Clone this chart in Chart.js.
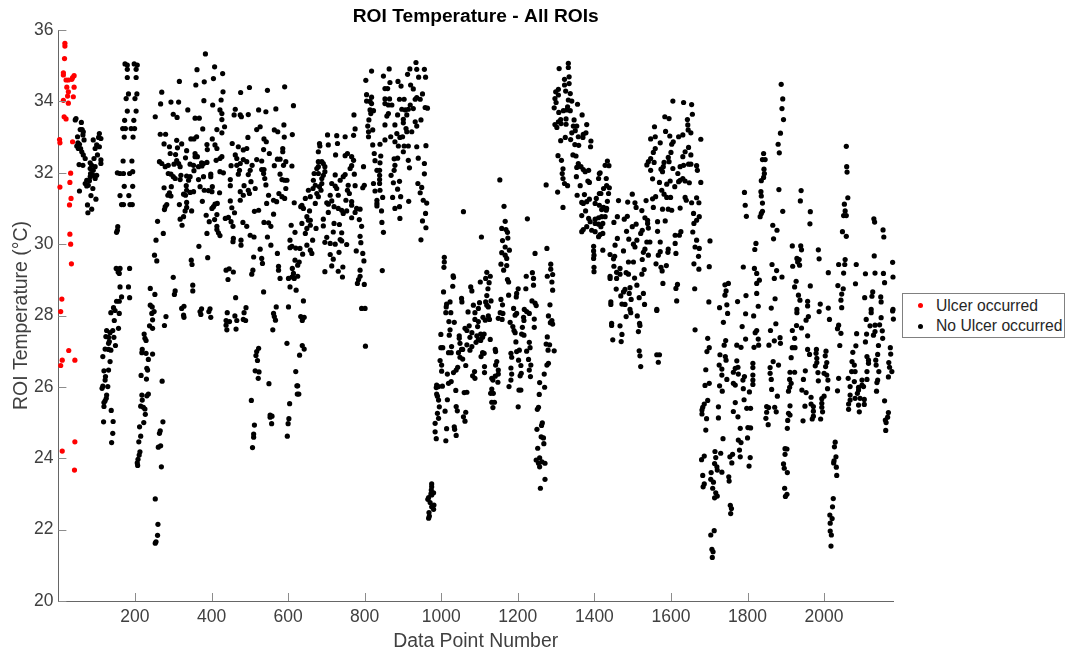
<!DOCTYPE html>
<html>
<head>
<meta charset="utf-8">
<title>ROI Temperature</title>
<script src="https://cdn.jsdelivr.net/npm/chart.js@4/dist/chart.umd.min.js"></script>
<style>
  html, body { margin: 0; padding: 0; background: #fff; }
  #wrap { position: relative; width: 1077px; height: 657px; }
  #legend { position: absolute; left: 902px; top: 293px; width: 161px; height: 43px; border: 1px solid #808080; background: #fff;
    font: 15.7px "Liberation Sans", Arial, sans-serif; color: #262626; }
  #legend div { position: absolute; left: 33px; white-space: nowrap; line-height: 20px; }
  #legend i { position: absolute; left: 15px; width: 5px; height: 5px; border-radius: 50%; }
</style>
</head>
<body>
<div id="wrap">
  <canvas id="c" width="1077" height="657"></canvas>
  <div id="legend">
    <i style="top:9px;background:#ff0000"></i><div style="top:2px">Ulcer occurred</div>
    <i style="top:30px;background:#000"></i><div style="top:22px">No Ulcer occurred</div>
  </div>
</div>
<script>
const xTicks = [200, 400, 600, 800, 1000, 1200, 1400, 1600, 1800, 2000];
const yTicks = [20, 22, 24, 26, 28, 30, 32, 34, 36];

const ulcer = [[17,35.63],[17,35.55],[16,35.2],[13,34.8],[13,34.74],[20,34.6],[26,34.6],[35,34.62],[41,34.72],[37,34.67],[22,34.4],[41,34.4],[26,34.27],[24,34.15],[39,34.13],[13,34.03],[26,33.95],[15,33.57],[20,33.51],[3,32.93],[4,32.84],[37,32.87],[32,31.99],[30,31.73],[4,31.6],[33,31.28],[29,31.1],[30,30.28],[32,30],[34,29.45],[9,28.46],[6,28.11],[27,27.02],[10,26.75],[43,26.75],[6,26.6],[43,24.46],[10,24.2],[42,23.67]];

const block0to120 = [[46,33.52],[44,33.48],[60,33.41],[62,33.21],[57,33.21],[65,33.15],[50,33.01],[67,32.92],[64,33.06],[51,32.84],[55,32.8],[48,32.75],[58,32.68],[52,32.68],[61,32.59],[65,32.5],[70,32.4],[54,32.23],[64,32.21],[91,32.92],[107,33.1],[105,32.99],[111,32.96],[100,32.78],[107,32.73],[96,32.68],[102,32.5],[93,32.4],[111,32.36],[111,32.26],[83,32.28],[87,32.21],[96,32.17],[83,32.12],[91,32.07],[84,31.98],[91,31.93],[100,31.93],[83,31.89],[96,31.84],[74,31.79],[81,31.78],[70,31.7],[78,31.65],[74,31.63],[90,31.56],[55,31.49],[85,31.36],[98,31.26],[76,31.1],[87,30.98],[77,30.88]];

const block120to210 = [[174,35.05],[180,35.02],[198,35.05],[206,35.02],[180,34.9],[203,34.9],[180,34.67],[203,34.67],[183,34.21],[205,34.21],[177,34.08],[200,34.08],[180,33.73],[203,33.73],[173,33.47],[197,33.47],[168,33.24],[175,33.24],[190,33.24],[199,33.24],[172,33],[195,33],[169,32.33],[192,32.33],[154,32],[161,31.98],[170,31.98],[186,31.98],[194,32.03],[172,31.62],[194,31.62],[161,31.36],[184,31.36],[165,31.11],[170,31.11],[187,31.11],[193,31.11],[155,30.49],[154,30.39],[152,30.33],[151,29.32],[161,29.32],[186,29.32],[156,29.22],[159,29.18],[161,28.8],[183,28.8],[165,28.52],[186,28.5],[152,28.4],[159,28.4],[144,28.22],
[137,28.08],[148,28.14],[159,28.06],[146,27.86],[126,27.58],[135,27.52],[142,27.58],[157,27.64],[124,27.41],[131,27.39],[145,27.39],[133,27.27],[131,27.22],[149,27.16],[122,27.06],[131,27.05],[137,27.03],[116,26.85],[135,26.71],[119,26.45],[131,26.47],[123,26.29],[122,26.19],[116,26.02],[114,25.96],[129,26.01],[126,25.77],[125,25.68],[122,25.61],[119,25.56],[119,25.45],[138,25.34],[118,25.02],[143,25.03],[142,24.7],[139,24.44]];

const block205to285 = [[244,28.06],[250,28.11],[246,27.88],[238,27.71],[246,27.64],[281,27.97],[277,27.72],[224,27.48],[226,27.36],[229,27.3],[219,27.05],[218,26.96],[229,26.94],[246,26.92],[235,26.77],[231,26.52],[233,26.47],[216,26.32],[230,26.22],[271,26.16],[218,25.77],[219,25.63],[235,25.8],[231,25.75],[215,25.46],[222,25.43],[226,25.38],[227,25.23],[223,25],[273,25.02],[212,24.88],[215,24.62],[210,24.46],[266,24.77],[264,24.7],[213,24.18],[211,24.09],[208,23.97],[206,23.87],[207,23.8],[267,24.35],[261,24.31],[269,23.76],[253,22.86],[260,22.15],[259,21.84],[255,21.66],[253,21.62]];

const block240to620 = [[384,35.33],[408,34.97],[362,34.89],[429,34.78],[405,34.64],[316,34.56],[381,34.55],[359,34.46],[591,34.41],[499,34.39],[546,34.31],[476,34.25],[430,34.27],[270,34.26],[425,34.04],[380,34.02],[294,33.98],[314,33.98],[267,33.93],[403,33.9],[614,33.88],[568,33.79],[523,33.76],[462,33.78],[542,33.71],[422,33.76],[338,33.76],[427,33.66],[459,33.62],[475,33.62],[496,33.63],[478,33.57],[300,33.64],[310,33.55],[253,33.57],[357,33.53],[368,33.53],[427,33.49],[434,33.29],[377,33.23],[414,33.21],[527,33.29],[518,33.21],[589,33.34],[564,33.2],[573,33.15],[427,33.12],[266,33.08],[280,33.08],[590,33],[611,33.07],[495,32.99],[361,33.01],[346,32.95],[354,32.95],[402,32.95],[309,32.91],[537,32.95],[543,32.87],[454,32.82],[276,32.81],[322,32.81],[388,32.79],[409,32.78],[290,32.73],[311,32.7],[470,32.73],[414,32.68],[536,32.65],[389,32.65],[492,32.68],[483,32.64],[586,32.68],[586,32.59],[551,32.54],[292,32.54],[306,32.51],[357,32.54],[462,32.5],[335,32.62],[332,32.42],[357,32.45],[363,32.45],[466,32.4],[427,32.45],[422,32.4],[518,32.37],[412,32.35],[531,32.33],[483,32.37],[572,32.38],[579,32.38],[264,32.31],[270,32.26],[309,32.34],[314,32.26],[344,32.24],[388,32.29],[379,32.26],[374,32.28],[366,32.17],[594,32.31],[588,32.21],[492,32.31],[475,32.26],[466,32.21],[506,32.21],[451,32.2],[279,32.17],[287,32.21],[302,32.24],[318,32.17],[353,32.21],[375,32.19],[610,32.19],[564,32.2],[501,32.07],[531,32.09],[537,32.09],[473,32.07],[422,32.03],[431,32],[287,31.98],[294,31.96],[354,32.06],[398,31.96],[300,31.89],[305,31.84],[320,31.93],[335,31.91],[344,31.89],[379,31.89],[398,31.89],[579,31.96],[536,31.98],[496,31.95],[470,31.96],[366,31.81],[340,31.79],[449,31.81],[591,31.79],[539,31.84],[584,31.81],[503,31.75],[597,31.79],[318,31.81],[334,31.64],[370,31.61],[402,31.61],[449,31.64],[485,31.64],[542,31.66],[276,31.58],[295,31.61],[335,31.51],[381,31.51],[392,31.5],[401,31.47],[421,31.44],[514,31.56],[594,31.56],[496,31.51],[475,31.47],[499,31.42],[353,31.47],[344,31.45],[332,31.37],[327,31.4],[290,31.44],[286,31.37],[294,31.35],[483,31.37],[576,31.42],[549,31.37],[584,31.33],[591,31.28],[562,31.23],[570,31.19],[475,31.23],[449,31.21],[376,31.2],[415,31.14],[409,31.12],[401,31],[405,31.05],[544,31.14],[616,31.16],[316,31.11],[283,31.11],[279,31.05],[277,30.97],[335,31.17],[335,31.03],[348,30.93],[331,30.93],[453,31.02],[460,30.88],[512,30.92],[523,30.95],[386,30.81],[414,30.83],[562,30.84],[327,30.77],[318,30.7],[436,30.72],[444,30.75],[451,30.63],[408,30.69],[394,30.63],[259,30.64],[482,30.61],[492,30.5],[537,30.61],[549,30.6],[555,30.5],[456,30.5],[323,30.53],[414,30.5],[414,30.41],[418,30.32],[274,30.3],[388,30.3],[422,30.24],[501,30.25],[511,30.2],[546,30.2],[457,30.16],[477,30.11],[255,30.11],[456,30.07],[477,29.97],[555,29.97],[367,29.94],[527,29.86],[251,29.69],[572,29.74],[510,29.64],[390,29.62],[531,29.6],[533,29.46],[257,29.53],[347,29.55],[349,29.43],[575,29.38],[575,29.27],[438,29.27],[446,29.31],[457,29.22],[508,29.27],[505,29.16],[300,29.07],[443,29.01],[579,29.04],[351,28.85],[351,28.69],[240,28.76],[252,28.59],[305,28.69],[303,28.59],[536,28.66],[463,28.5],[328,28.26],[322,28.2],[240,28.29],[245,28.24],[374,28.19],[396,28.19],[490,28.22],[569,28.24],[601,28.24]];

const block600to690 = [[605,30.11],[605,29.9],[610,29.94],[620,29.89],[631,29.88],[649,29.97],[664,30.11],[658,29.83],[662,29.74],[618,30.33],[608,30.53],[636,30.58],[653,30.67],[649,30.77],[658,30.67],[645,30.3],[649,30.44],[658,30.53],[673,30.44],[638,29.72],[618,29.55],[629,29.5],[625,29.41],[611,29.32],[614,29.18],[601,29.04],[610,29.08],[616,29.04],[625,29.1],[605,28.8],[621,28.71],[640,28.41],[636,31.09],[645,31.28],[658,31.33],[653,31.51],[665,31.56],[671,31.65],[666,31.79],[668,31.98],[675,32.12],[679,32.31],[679,32.59],[682,32.82],[671,31.14],[679,31.33],[675,31.42],[679,32.17],[656,30.93],[679,31.98],[682,31.61],[633,31.05],[640,31]];

const block320to640low = [[327,28.01],[328,27.95],[370,28.11],[372,28.03],[393,28.11],[398,27.95],[441,28.08],[438,27.86],[447,27.83],[438,27.73],[440,27.6],[461,27.99],[466,27.86],[464,27.62],[485,28.08],[483,27.89],[489,27.86],[562,28.06],[564,27.97],[567,27.87],[560,27.6],[633,27.97],[638,27.92],[642,27.95],[637,27.86],[597,27.22],[637,27.16],[642,27.06],[630,26.89],[523,27.08],[518,26.99],[516,26.88],[520,26.74],[514,26.45],[524,26.42],[522,26.24],[550,26.09],[504,25.62],[512,24.93],[510,24.68],[510,24.59],[507,24.3],[553,25.21],[558,25.18],[557,24.97],[553,25.15],[620,26.43],[623,26.03],[625,26.03],[624,25.8],[628,25.8],[604,25.53],[602,25.11],[600,24.97],[598,24.62]];

const block683to965 = [[934,35.09],[864,34.91],[818,34.85],[918,34.91],[936,34.9],[956,34.9],[912,34.76],[849,34.71],[941,34.68],[959,34.68],[803,34.59],[866,34.53],[887,34.56],[895,34.43],[920,34.46],[927,34.35],[853,34.36],[860,34.36],[805,34.19],[951,34.21],[818,34.12],[936,34.11],[805,34.01],[814,34],[818,33.94],[853,34.07],[865,34.07],[891,34.06],[903,34.06],[932,34.06],[945,34.06],[853,33.94],[862,33.9],[871,33.9],[919,33.9],[897,33.78],[906,33.76],[914,33.78],[927,33.8],[958,33.83],[964,33.81],[814,33.76],[823,33.74],[816,33.66],[862,33.66],[858,33.59],[886,33.62],[910,33.62],[772,33.62],[901,33.5],[932,33.43],[947,33.48],[811,33.48],[901,33.4],[936,33.31],[808,33.31],[853,33.34],[879,33.34],[908,33.24],[775,33.23],[821,33.2],[810,33.15],[923,33.15],[884,33.1],[910,33.15],[899,33.01],[892,32.99],[771,33.05],[749,33.01],[868,33.01],[853,32.92],[840,32.8],[821,32.78],[703,33.06],[727,33.04],[888,32.75],[903,32.75],[914,32.75],[936,32.73],[960,32.76],[879,32.87],[729,32.82],[705,32.78],[683,32.75],[810,33.01],[901,32.59],[825,32.54],[724,32.5],[755,32.54],[749,32.48],[766,32.45],[771,32.35],[842,32.47],[940,32.41],[877,32.39],[886,32.41],[914,32.35],[827,32.34],[840,32.28],[956,32.26],[879,32.21],[797,32.17],[917,32.14],[766,32.2],[762,32.12],[832,32.07],[839,32.07],[692,32.26],[696,32.17],[688,32.31],[696,32.03],[877,32.07],[773,31.96],[749,31.95],[723,31.94],[839,31.93],[956,31.97],[692,31.93],[869,31.93],[736,31.79],[744,31.89],[839,31.81],[714,31.7],[723,31.63],[823,31.7],[839,31.7],[875,31.72],[891,31.76],[939,31.7],[949,31.59],[757,31.65],[775,31.64],[799,31.65],[795,31.58],[688,31.84],[688,31.7],[686,31.51],[727,31.56],[710,31.37],[755,31.51],[760,31.42],[731,31.37],[840,31.51],[827,31.49],[886,31.54],[945,31.44],[847,31.31],[873,31.31],[894,31.33],[953,31.23],[962,31.15],[915,31.2],[751,31.23],[714,31.21],[766,31.19],[701,31.16],[705,31.12],[766,31.09],[832,31.23],[832,31.14],[720,31.05],[731,31],[740,30.95],[753,30.93],[832,31.07],[779,31],[788,30.98],[891,31.05],[879,31],[844,30.93],[705,30.89],[744,30.86],[775,30.89],[959,30.86],[692,30.7],[766,30.74],[786,30.69],[892,30.72],[845,30.61],[951,30.65],[720,30.58],[734,30.55],[692,30.51],[792,30.5],[960,30.46],[849,30.33],[718,30.34],[740,30.32],[701,30.19],[947,30.12],[736,30.13],[788,30.22],[696,30.05],[710,30.02],[723,30],[740,30.09],[753,29.99],[790,30.04],[778,29.81],[795,29.74],[710,29.71],[733,29.77],[718,29.58],[798,29.53],[714,29.39],[743,29.36],[696,29.23],[788,29.27],[731,29.24],[846,29.26],[788,29.1],[742,29.08],[784,29.01],[781,28.9],[799,28.87],[792,28.2],[801,28.2],[802,27.14]];

const block1000to1420top = [[1308,34.92],[1332,35.07],[1332,34.95],[1334,34.69],[1322,34.62],[1334,34.5],[1322,34.46],[1306,34.34],[1299,34.27],[1325,34.29],[1337,34.22],[1306,34.18],[1297,34.08],[1332,34.04],[1341,34.01],[1300,33.97],[1356,33.92],[1295,33.82],[1330,33.85],[1328,33.76],[1319,33.74],[1307,33.69],[1337,33.74],[1368,33.62],[1312,33.49],[1326,33.51],[1347,33.48],[1306,33.43],[1297,33.35],[1313,33.38],[1326,33.36],[1380,33.35],[1345,33.31],[1354,33.31],[1302,33.27],[1350,33.18],[1341,33.12],[1378,33.12],[1371,33.08],[1358,33.01],[1370,32.99],[1324,32.99],[1312,32.9],[1338,32.93],[1391,32.89],[1349,32.79],[1359,32.77],[1390,32.73],[1305,32.48],[1344,32.5],[1352,32.47],[1314,32.35],[1318,32.11],[1358,32.26],[1365,32.17],[1354,32.15],[1371,32.09],[1385,32.07],[1376,32.03],[1316,31.98],[1413,31.98],[1318,31.84],[1353,31.89],[1411,31.84],[1322,31.7],[1383,31.77],[1387,31.73],[1363,31.64],[1330,31.64],[1274,31.66],[1153,31.8],[1304,31.46],[1355,31.37],[1374,31.39],[1413,31.42],[1387,31.26],[1405,31.28],[1367,31.17],[1371,31.14],[1380,31.19],[1402,31.14],[1413,31.09],[1318,31.03],[1164,31.06],[1377,30.93],[1058,30.91],[1367,30.8],[1385,30.72],[1402,30.7],[1411,30.74],[1225,30.71],[1167,30.64],[1389,30.63],[1402,30.58],[1411,30.56],[1380,30.49],[1371,30.41],[1367,30.35],[1393,30.39],[1402,30.35],[1411,30.21],[1158,30.44],[1169,30.41],[1173,30.33],[1105,30.2],[1174,30.17],[1160,30.1],[1167,29.92],[1398,29.94],[1276,29.88],[1178,29.83],[1158,29.76],[1167,29.69],[1245,29.74],[1398,29.81],[1399,29.69],[1008,29.63],[1008,29.5],[1007,29.35],[1286,29.44],[1171,29.6],[1156,29.44],[1171,29.4],[1398,29.6],[1286,29.3],[1399,29.35],[1399,29.23],[1119,29.21],[1163,29.27],[1238,29.2],[1291,29.15],[1031,29.11],[1032,29.07],[1128,29.1],[1116,29.04],[1222,29.1],[1241,29.04],[1277,29.1],[1173,29.01],[1102,28.94],[1125,28.92],[1176,28.94],[1289,28.94],[1241,28.85],[1030,28.82],[1077,28.8],[1122,28.75],[1221,28.75],[1201,28.75],[1080,28.69],[1006,28.66],[1291,28.71],[1176,28.57],[1197,28.62],[1196,28.52],[1053,28.48],[1119,28.56],[1054,28.38],[1130,28.41],[1023,28.38],[1156,28.45],[1237,28.41],[1245,28.35],[1014,28.32],[1013,28.24],[1100,28.36],[1116,28.38],[1119,28.29],[1084,28.29],[1160,28.3],[1284,28.3],[1248,28.28],[1189,28.2],[1217,28.17],[1123,28.24],[1097,28.2]];

const block965to1300low = [[1012,28.08],[1025,28.08],[1070,28.1],[1088,28.08],[1154,28.08],[1161,28.06],[1193,28.01],[1197,28.06],[1223,28.11],[1230,28.06],[1109,27.95],[1088,27.89],[1097,27.83],[1115,27.87],[1126,27.89],[1123,27.99],[1149,27.92],[1159,27.89],[1215,27.95],[1216,27.86],[1243,27.9],[1280,27.99],[1289,27.86],[1285,27.8],[1291,27.76],[1020,27.83],[1034,27.81],[1180,27.81],[1187,27.69],[1212,27.67],[1243,27.67],[1095,27.69],[1073,27.71],[1062,27.64],[1067,27.58],[1023,27.6],[1080,27.52],[1190,27.58],[1193,27.52],[999,27.47],[1021,27.45],[1047,27.43],[1093,27.43],[1103,27.48],[1112,27.48],[1210,27.48],[1216,27.45],[1075,27.39],[1047,27.36],[1097,27.33],[1108,27.39],[1128,27.33],[1277,27.4],[1091,27.25],[1103,27.3],[1195,27.26],[1230,27.25],[1049,27.22],[1067,27.18],[1274,27.2],[1283,27.18],[1080,27.13],[999,27.1],[1004,27.1],[1027,27.13],[1232,27.1],[1053,27.05],[1056,27.05],[1141,27.05],[1204,27.03],[1223,27],[1279,27.03],[1295,27.01],[1075,27.03],[1019,26.96],[1026,26.96],[1045,26.96],[1142,26.99],[1108,26.96],[1112,26.94],[1182,26.94],[1197,26.99],[1104,26.85],[1049,26.83],[1056,26.78],[1184,26.83],[1202,26.75],[1228,26.77],[997,26.74],[1145,26.71],[1142,26.61],[1001,26.61],[1064,26.6],[1208,26.6],[1234,26.61],[1280,26.66],[1276,26.61],[1043,26.55],[1113,26.57],[1182,26.53],[1230,26.47],[1039,26.47],[1149,26.47],[1001,26.44],[1087,26.43],[1032,26.4],[1016,26.36],[1113,26.4],[1184,26.36],[1209,26.38],[1149,26.36],[1206,26.31],[1269,26.36],[1082,26.31],[1141,26.3],[1233,26.29],[1088,26.24],[1132,26.24],[1135,26.19],[1182,26.19],[1148,26.13],[1257,26.12],[1026,26.15],[1019,26.1],[1003,26.02],[988,26.05],[987,25.98],[993,26.01],[1177,26.01],[1270,25.99],[1132,25.94],[1203,25.91],[1208,25.91],[1038,25.9],[1060,25.84],[1067,25.85],[1129,25.82],[1136,25.82],[988,25.8],[1256,25.79],[990,25.74],[993,25.63],[1016,25.64],[1132,25.57],[1139,25.57],[995,25.44],[1201,25.44],[1135,25.42],[1039,25.45],[1254,25.43],[1251,25.37],[1042,25.33],[1010,25.32],[1064,25.29],[990,25.26],[1058,25.16],[993,25.12],[1062,25.04],[984,24.98],[1264,24.99],[1262,24.92],[1034,24.88],[1014,24.83],[1035,24.81],[1250,24.81],[984,24.74],[1039,24.64],[1261,24.6],[1267,24.57],[987,24.55],[1012,24.49],[1268,24.41],[1252,24.28],[1257,24.01],[1248,23.95],[1263,23.9],[1271,23.86],[1254,23.86],[1257,23.76],[1271,23.41],[1259,23.16]];

const block965cold = [[975,23.28],[975,23.2],[974,23.11],[980,23.03],[973,23],[967,22.9],[975,22.97],[965,22.85],[971,22.76],[981,22.69],[975,22.64],[980,22.57],[968,22.48],[969,22.38],[967,22.32]];

const block1415to1700 = [[1605,34.01],[1633,33.97],[1654,33.91],[1656,33.64],[1584,33.57],[1595,33.52],[1643,33.49],[1557,33.29],[1644,33.34],[1586,33.16],[1645,33.2],[1652,33.12],[1597,33.03],[1620,33.01],[1631,33.06],[1559,33.01],[1547,32.95],[1678,32.94],[1606,32.87],[1602,32.8],[1572,32.84],[1559,32.68],[1554,32.57],[1646,32.71],[1637,32.59],[1652,32.5],[1600,32.57],[1593,32.43],[1631,32.45],[1595,32.31],[1547,32.4],[1541,32.31],[1556,32.29],[1582,32.29],[1537,32.22],[1624,32.17],[1633,32.21],[1646,32.24],[1652,32.24],[1667,32.2],[1669,32.07],[1580,32.17],[1605,32.12],[1574,32.1],[1547,32.07],[1578,32.03],[1618,31.98],[1552,31.83],[1631,31.84],[1624,31.79],[1598,31.77],[1570,31.73],[1637,31.77],[1648,31.72],[1678,31.73],[1620,31.75],[1589,31.68],[1610,31.61],[1576,31.51],[1582,31.4],[1560,31.33],[1552,31.27],[1589,31.31],[1599,31.31],[1637,31.31],[1640,31.23],[1667,31.3],[1673,31.16],[1499,31.4],[1463,31.22],[1487,31.18],[1506,31.16],[1509,31.03],[1535,31.22],[1654,31.16],[1554,31.03],[1578,30.98],[1593,30.98],[1602,30.95],[1624,31.01],[1524,30.94],
[1434,32.33],[1428,32.21],[1438,32.2],[1431,31.84],[1415,32],[1432,31.64],[1439,31.58],[1424,31.56],[1437,31.42],[1417,31.42],[1434,31.2],[1424,31.03],[1432,31],[1431,30.95],[1419,30.97],[1428,30.77],[1419,30.77],[1422,30.58],[1417,30.49],[1422,30.3],[1415,30.27],[1422,29.83],
[1460,30.77],[1486,30.78],[1478,30.7],[1451,30.61],[1532,30.74],[1539,30.67],[1565,30.63],[1585,30.65],[1659,30.86],[1674,30.77],[1667,30.67],[1660,30.58],[1509,30.56],[1499,30.49],[1539,30.58],[1541,30.45],[1525,30.39],[1521,30.3],[1484,30.36],[1565,30.36],[1626,30.35],[1622,30.25],[1611,30.25],[1657,30.34],[1460,30.16],[1490,30.14],[1511,30.11],[1537,30.06],[1545,30.06],[1572,30.06],[1611,30.02],[1667,30.11],[1702,30.09],[1454,29.97],[1502,30],[1506,29.92],[1663,29.92],[1674,29.88],[1476,29.81],[1532,29.86],[1593,29.86],[1572,29.79],[1567,29.69],[1592,29.77],[1613,29.74],[1528,29.77],[1541,29.69],[1441,29.71],[1453,29.66],[1672,29.66],[1525,29.57],[1450,29.59],[1489,29.5],[1502,29.5],[1561,29.45],[1588,29.4],[1660,29.45],[1574,29.35],[1673,29.3],[1700,29.37],[1451,29.38],[1467,29.32],[1577,29.25],[1530,29.29],[1458,29.21],[1483,29.2],[1467,29.16],[1489,29.16],[1524,29.16],[1441,29.1],[1441,29.04],[1458,29.04],[1505,29.05],[1579,28.9],[1617,28.87],[1613,28.76],[1662,28.75],[1511,28.85],[1493,28.78],[1457,28.74],[1480,28.73],[1476,28.66],[1491,28.62],[1528,28.62],[1469,28.55],[1517,28.5],[1496,28.45],[1615,28.41],[1699,28.38],[1443,28.38],[1443,28.31],[1472,28.32],[1480,28.31],[1531,28.31],[1563,28.17],[1493,28.17]];

const block1720to2180top = [[1888,34.48],[1892,34.07],[1890,33.8],[1894,33.49],[1886,33.11],[1880,32.8],[1883,32.56],[2058,32.74],[2059,32.17],[2060,32.02],[1842,32.54],[1839,32.37],[1846,32.37],[1843,32.1],[1844,31.98],[1842,31.87],[1836,31.78],[1792,31.45],[1835,31.47],[1882,31.53],[1940,31.5],[1836,31.35],[1794,31.09],[1839,31.15],[1938,31.21],[2062,31.3],[2053,31.12],[1964,30.91],[1892,30.92],[1839,30.92],[1836,30.86],[1833,30.77],[1797,30.78],[2055,30.93],[2051,30.8],[2058,30.8],[2130,30.71],[2132,30.62],[1963,30.57],[1866,30.53],[1877,30.39],[2154,30.4],[2048,30.35],[2156,30.2],[2058,30.22],[1868,30.15],[1822,30.02],[1819,29.85],[1917,29.95],[1939,29.95],[1941,29.84],[1985,29.84],[1987,29.59],[2131,29.67],[1929,29.6],[1935,29.57],[2055,29.57],[2179,29.49],[1864,29.43],[1931,29.5],[1936,29.41],[1918,29.38],[2038,29.43],[2054,29.43],[2084,29.43],[1789,29.36],[1818,29.32],[1876,29.26],[1824,29.18],[2011,29.2],[2051,29.19],[2108,29.17],[2133,29.19],[2155,29.18],[2180,29.08],[1890,29.08],[1870,29.04],[1831,28.99],[1927,28.96],[2158,28.92],[2082,28.89],[1750,28.9],[1741,28.86],[1824,28.9],[1923,28.8],[1964,28.83],[2036,28.84],[2050,28.75],[1744,28.69],[1741,28.57],[1796,28.56],[1824,28.62],[2046,28.6],[1933,28.57],[2127,28.66],[2125,28.54],[2148,28.52],[2106,28.5],[1872,28.47],[1937,28.43],[2044,28.43],[1957,28.4],[2149,28.38],[1774,28.39],[1990,28.32],[1957,28.27],[1746,28.3],[1828,28.26],[1727,28.22],[1862,28.21],[2011,28.21],[2046,28.22],[2123,28.17],[2180,28.17],[1929,28.17]];

const block1440to1830low = [[1495,28.08],[1483,27.97],[1512,27.99],[1563,28.14],[1445,27.78],[1445,27.72],[1467,27.71],[1518,27.78],[1519,27.72],[1515,27.55],[1472,27.47],[1448,27.32],[1470,27.27],[1517,27.01],[1519,26.87],[1563,26.9],[1570,26.9],[1567,26.69],[1521,26.57],[1663,27.6],[1696,27.36],[1700,27.1],[1694,26.99],[1743,27.3],[1739,27.17],[1737,27.81],[1748,28.06],[1795,28.05],[1816,27.99],[1786,27.69],[1824,27.58],[1820,27.52],[1795,27.34],[1828,27.34],[1829,27.17],[1817,27.11],[1772,27.17],[1783,27.11],[1728,26.9],[1742,26.85],[1744,26.75],[1772,26.73],[1726,26.61],[1733,26.5],[1691,26.48],[1814,26.66],[1814,26.54],[1768,26.52],[1775,26.55],[1763,26.41],[1776,26.36],[1733,26.33],[1792,26.29],[1814,26.33],[1746,26.21],[1788,26.19],[1814,26.19],[1763,26.1],[1768,26.05],[1700,26.1],[1689,26.04],[1814,26.07],[1727,26.03],[1789,25.95],[1734,25.88],[1805,25.86],[1696,25.62],[1791,25.64],[1768,25.56],[1687,25.52],[1683,25.43],[1724,25.44],[1798,25.4],[1808,25.4],[1681,25.35],[1763,25.31],[1681,25.24],[1775,25.16],[1693,25.11],[1724,25.13],[1781,24.84],[1801,24.86],[1808,24.85],[1691,24.79],[1800,24.57],[1736,24.55],[1776,24.51],[1783,24.44],[1779,24.23],[1715,24.19],[1730,24.14],[1761,24.11],[1687,24.06],[1680,23.96],[1717,24.02],[1754,24.04],[1781,24.04],[1807,24.02],[1759,23.87],[1714,23.85],[1804,23.78],[1720,23.76],[1721,23.67],[1733,23.61],[1705,23.6],[1683,23.52],[1751,23.48],[1704,23.41],[1711,23.33],[1752,23.36],[1687,23.28],[1684,23.2],[1709,23.16],[1717,23.03],[1721,22.94],[1714,22.89],[1755,22.68],[1758,22.59],[1756,22.45],[1713,21.97],[1704,21.85],[1707,21.45],[1710,21.38],[1708,21.22]];

const blockColdColumns = [[1898,24.27],[1903,24.26],[1898,24.11],[1894,23.84],[1896,23.72],[1904,23.6],[1897,23.16],[1903,22.99],[1899,22.93],[2029,24.45],[2027,24.32],[2031,24.04],[2026,23.93],[2025,23.87],[2032,23.75],[2033,23.52],[2024,22.87],[2022,22.64],[2015,22.41],[2021,22.31],[2016,22.18],[2016,21.96],[2019,21.85],[2018,21.54]];

const block1850to2180low = [[1929,28.08],[1959,27.97],[1953,27.87],[1987,28.11],[2014,27.89],[2179,28.13],[2181,27.9],[2149,27.94],[2123,28.08],[2110,27.89],[1874,27.77],[1928,27.72],[1941,27.65],[1860,27.58],[1917,27.58],[2038,27.73],[2035,27.63],[2044,27.5],[2120,27.71],[2133,27.73],[2145,27.74],[2152,27.57],[2133,27.55],[2085,27.49],[2111,27.48],[2129,27.45],[2153,27.36],[1923,27.36],[1957,27.43],[1885,27.38],[1870,27.29],[1886,27.22],[1856,27.17],[1917,27.1],[1924,27.1],[2041,27.16],[2108,27.26],[2142,27.16],[2083,27.15],[2173,27.1],[1957,27.05],[1980,27.05],[2005,27],[2075,26.97],[1962,26.91],[1979,26.94],[2003,26.87],[2174,26.92],[2140,26.91],[2112,26.85],[1914,26.82],[2116,26.75],[2135,26.75],[1981,26.8],[2073,26.71],[1867,26.71],[2116,26.66],[1881,26.61],[1981,26.68],[2007,26.68],[2169,26.68],[1977,26.59],[2079,26.61],[2136,26.61],[2004,26.57],[1859,26.54],[2171,26.55],[2072,26.43],[2081,26.43],[2112,26.43],[1911,26.41],[1923,26.41],[1951,26.45],[1984,26.4],[2143,26.43],[2177,26.43],[1859,26.38],[2000,26.38],[2007,26.33],[2168,26.28],[1862,26.21],[1910,26.21],[1946,26.21],[2038,26.24],[2063,26.24],[2010,26.19],[1985,26.17],[2112,26.21],[2140,26.19],[2099,26.19],[1914,26.1],[2079,26.15],[2138,26.12],[2099,26.05],[2103,26.01],[2068,26.01],[2090,25.99],[1910,25.99],[1863,25.93],[2009,25.95],[1942,25.91],[2090,25.91],[2035,25.89],[1907,25.88],[2137,25.88],[1953,25.84],[2087,25.82],[1878,25.74],[1966,25.71],[2000,25.74],[2068,25.77],[2081,25.68],[1994,25.67],[2094,25.68],[2068,25.63],[2105,25.65],[2158,25.61],[1966,25.52],[1994,25.54],[2064,25.52],[2105,25.51],[2090,25.49],[1911,25.47],[1950,25.46],[1972,25.45],[1850,25.45],[1871,25.43],[1855,25.42],[1994,25.43],[2064,25.37],[1875,25.3],[2092,25.3],[1972,25.32],[1850,25.29],[1996,25.3],[2168,25.28],[1907,25.26],[1972,25.18],[2166,25.15],[1848,25.12],[1969,25.1],[1991,25.1],[1905,25.06],[1945,25.05],[2160,25.07],[2162,25],[1854,24.94],[1904,24.84],[2161,24.78],[1911,25.21]];

const noUlcer = [block0to120, block120to210, block205to285, block240to620, block600to690, block320to640low,
  block683to965, block1000to1420top, block965to1300low, block965cold, block1415to1700, block1720to2180top,
  block1440to1830low, blockColdColumns, block1850to2180low].flat();

const toXY = (pts) => pts.map(([x, y]) => ({ x, y }));
const axisColor = '#404040';
const family = '"Liberation Sans", Arial, sans-serif';
const tickFont = { family, size: 17.5 };
const labelFont = { family, size: 19.4, lineHeight: 1.2 };

// MATLAB style ticks point inward, so they are drawn over the plot area
const inwardTicks = {
  id: 'inwardTicks',
  afterDraw(chart) {
    const { ctx, chartArea, scales } = chart;
    ctx.save();
    ctx.strokeStyle = '#8c8c8c';
    ctx.lineWidth = 1;
    ctx.beginPath();
    xTicks.forEach((v) => {
      const px = Math.round(scales.x.getPixelForValue(v)) + 0.5;
      ctx.moveTo(px, chartArea.bottom);
      ctx.lineTo(px, chartArea.bottom - 8);
    });
    yTicks.forEach((v) => {
      const py = Math.round(scales.y.getPixelForValue(v)) + 0.5;
      ctx.moveTo(chartArea.left, py);
      ctx.lineTo(chartArea.left + 8, py);
    });
    ctx.stroke();
    ctx.restore();
  },
};

Chart.defaults.animation = false;
new Chart(document.getElementById('c'), {
  type: 'scatter',
  plugins: [inwardTicks],
  data: {
    datasets: [
      { label: 'Ulcer occurred', data: toXY(ulcer), backgroundColor: '#ff0000', borderWidth: 0, pointRadius: 2.6, clip: false },
      { label: 'No Ulcer occurred', data: toXY(noUlcer), backgroundColor: '#000000', borderWidth: 0, pointRadius: 2.6, clip: false },
    ],
  },
  options: {
    responsive: false,
    layout: { padding: { right: 184, bottom: 0, top: 0, left: 0 } },
    plugins: {
      legend: { display: false },
      tooltip: { enabled: false },
      title: {
        display: true,
        text: 'ROI Temperature - All ROIs',
        fullSize: false,
        color: '#000',
        font: { family, size: 19.2, weight: 'bold', lineHeight: 1.2 },
        padding: { top: 5, bottom: 2 },
      },
    },
    scales: {
      x: {
        type: 'linear',
        min: 0,
        max: 2180,
        afterBuildTicks: (s) => { s.ticks = xTicks.map((value) => ({ value })); },
        afterFit: (s) => { s.height = 56; },
        grid: { drawOnChartArea: false, drawTicks: false },
        border: { color: '#666666' },
        ticks: { padding: 6, color: axisColor, font: tickFont, maxRotation: 0, autoSkip: false, callback: (v) => String(v) },
        title: { display: true, text: 'Data Point Number', color: axisColor, font: labelFont, padding: { top: 0, bottom: 3.4 } },
      },
      y: {
        min: 20,
        max: 36,
        afterBuildTicks: (s) => { s.ticks = yTicks.map((value) => ({ value })); },
        afterFit: (s) => { s.width = 58.4; },
        grid: { drawOnChartArea: false, drawTicks: false },
        border: { color: '#666666' },
        ticks: { padding: 5, color: axisColor, font: tickFont },
        title: { display: true, text: 'ROI Temperature (°C)', color: axisColor, font: labelFont, padding: { top: 10, bottom: 0 } },
      },
    },
  },
});
</script>
</body>
</html>
